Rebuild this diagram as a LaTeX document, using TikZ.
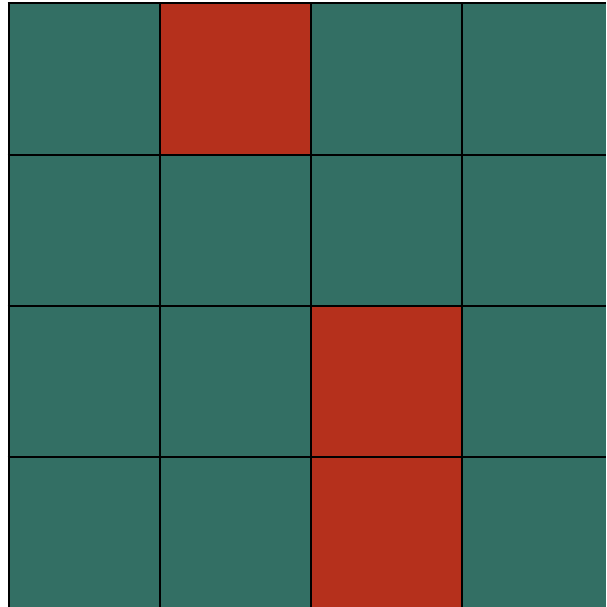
\documentclass[tikz,border=0pt]{standalone}
\definecolor{tealc}{HTML}{336F64}
\definecolor{redc}{HTML}{B5301C}
\tikzset{gridline/.style={draw=black,line width=2pt},hot/.style={fill=redc}}
\begin{document}
\begin{tikzpicture}[x=1pt,y=-1pt]
\useasboundingbox (0,0) rectangle (606,607);
\fill[white] (0,0) rectangle (606,607);
\fill[tealc] (8.5,3.5) rectangle (606,607);
\fill[hot] (159.5,3.5) rectangle ++(151,151);
\fill[hot] (310.5,305.5) rectangle (461.5,607);
\foreach \v in {8.5,159.5,310.5,461.5}{
  \draw[gridline] (\v,2.5) -- (\v,607);
  \draw[gridline] (7.5,{\v-5}) -- (606,{\v-5});
}
\end{tikzpicture}
\end{document}
